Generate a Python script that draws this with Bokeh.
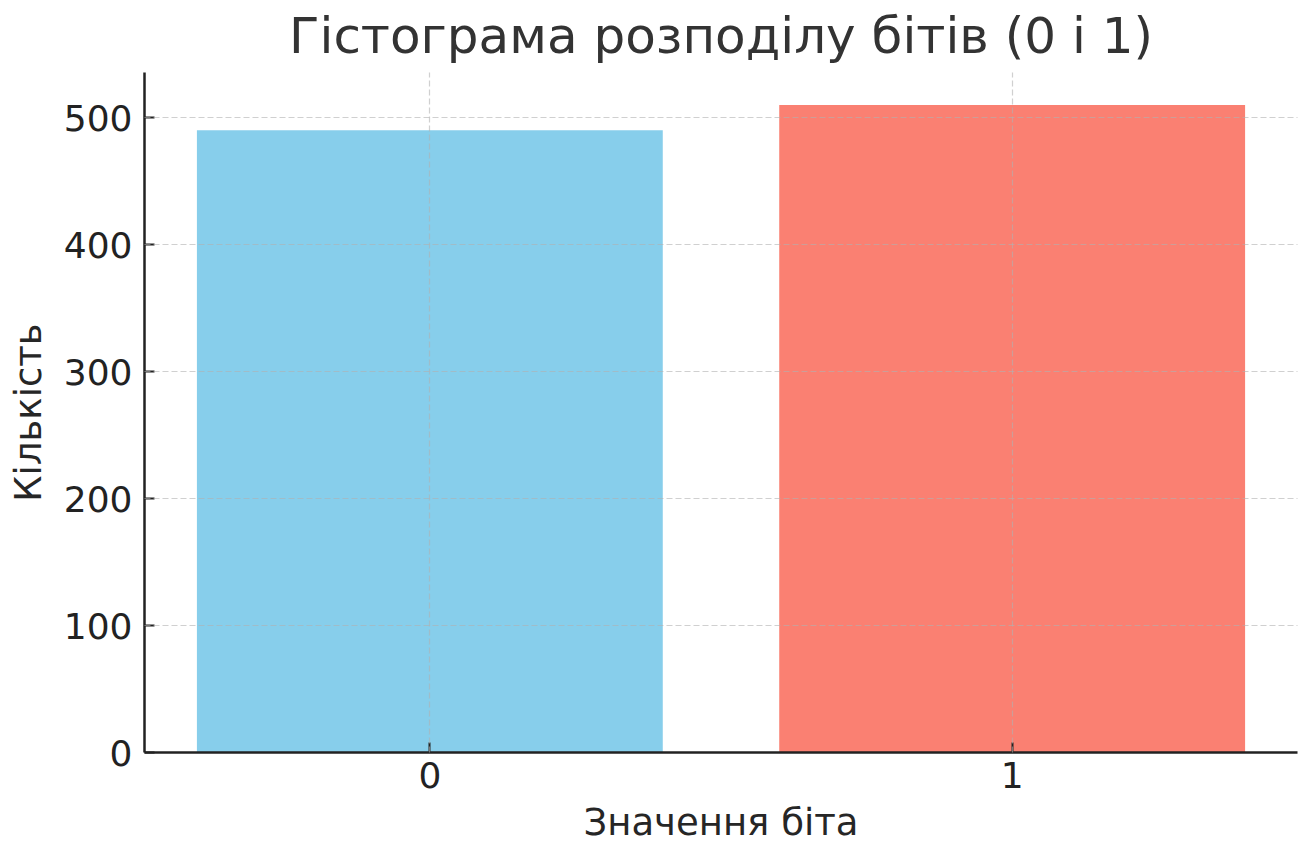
from bokeh.plotting import figure
from bokeh.models import ColumnDataSource, Range1d, FixedTicker
from bokeh.embed import file_html
from bokeh.resources import INLINE

# Data
bit_values = [0, 1]
bit_labels = ["0", "1"]
counts = [490, 510]
bar_colors = ["#87CEEB", "#FA8072"]
y_ticks = [0, 100, 200, 300, 400, 500]

title_text = "Гістограма розподілу бітів (0 і 1)"
x_label = "Значення біта"
y_label = "Кількість"

src = ColumnDataSource(dict(x=bit_values, top=counts, color=bar_colors))

p = figure(width=1303, height=845, output_backend="svg", toolbar_location=None,
           x_range=Range1d(-0.49, 1.49), y_range=Range1d(0, max(counts) * 1.05),
           frame_width=1153, frame_height=680,
           min_border_left=144, min_border_right=6, min_border_top=71, min_border_bottom=94,
           title=title_text)

p.vbar(x="x", top="top", width=0.8, bottom=0, color="color", source=src, line_color=None)

p.title.text_font = "DejaVu Sans"
p.title.text_font_size = "50px"
p.title.text_font_style = "normal"
p.title.text_color = "#333333"
p.title.align = "center"
p.title.vertical_align = "top"
p.title.standoff = 12

p.outline_line_color = None
p.background_fill_color = "white"
p.border_fill_color = "white"

p.xaxis.ticker = FixedTicker(ticks=bit_values)
p.xaxis.major_label_overrides = {v: l for v, l in zip(bit_values, bit_labels)}
p.yaxis.ticker = FixedTicker(ticks=y_ticks)

for ax in (p.xaxis, p.yaxis):
    ax.axis_line_color = "#222222"
    ax.axis_line_width = 2.5
    ax.major_tick_line_color = "#222222"
    ax.major_tick_line_width = 2
    ax.major_tick_in = 10
    ax.major_tick_out = 0
    ax.minor_tick_line_color = None
    ax.major_label_text_font = "DejaVu Sans"
    ax.major_label_text_font_size = "36px"
    ax.major_label_text_color = "#222222"
    ax.axis_label_text_font = "DejaVu Sans"
    ax.axis_label_text_font_size = "37px"
    ax.axis_label_text_font_style = "normal"
    ax.axis_label_text_color = "#262626"

p.xaxis.axis_label = x_label
p.yaxis.axis_label = y_label
p.xaxis.major_label_standoff = 9
p.yaxis.major_label_standoff = 12
p.xaxis.axis_label_standoff = 10
p.yaxis.axis_label_standoff = 11

for g in (p.xgrid, p.ygrid):
    g.grid_line_color = "#b0b0b0"
    g.grid_line_alpha = 0.6
    g.grid_line_width = 1.2
    g.grid_line_dash = "6 3"
    g.level = "overlay"

open("out.html", "w").write(file_html(p, INLINE))
